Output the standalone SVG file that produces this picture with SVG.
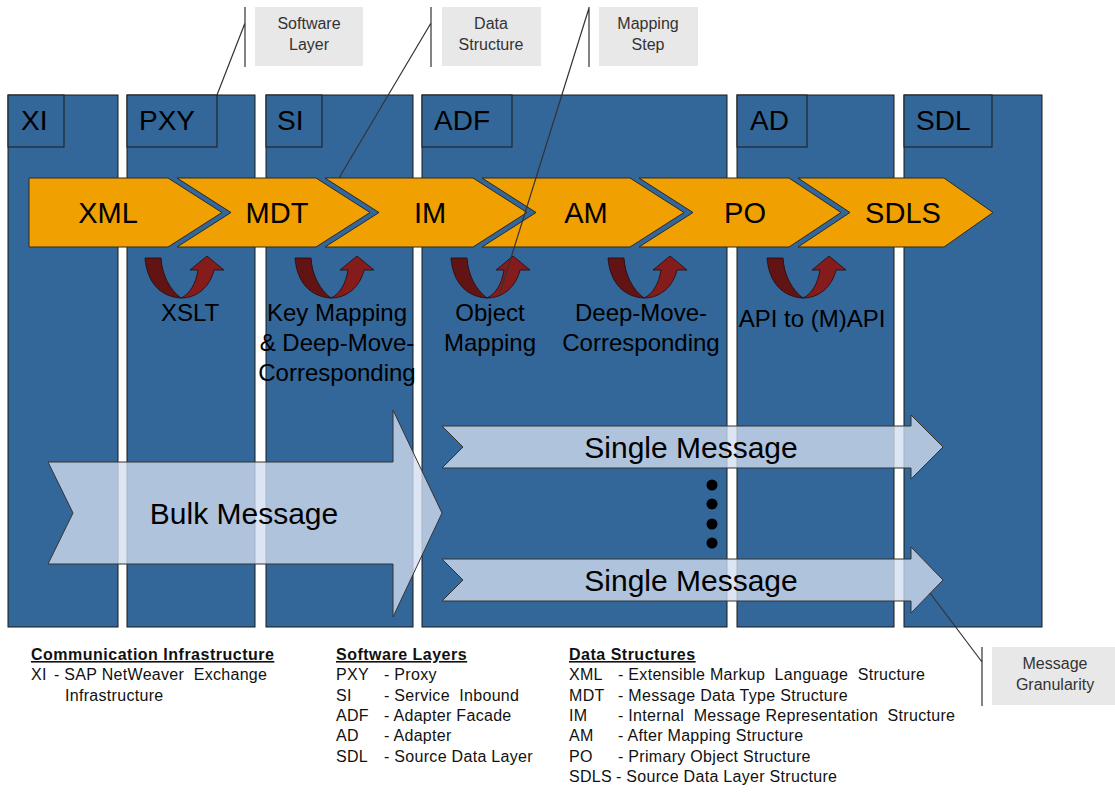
<svg xmlns="http://www.w3.org/2000/svg" xmlns:xlink="http://www.w3.org/1999/xlink" width="1115" height="792" viewBox="0 0 1115 792">
<style>
text{font-family:"Liberation Sans",Arial,sans-serif;}
.col{fill:#336699;stroke:#1a1a1a;stroke-width:1;}
.lbl{fill:#336699;stroke:#1a1a1a;stroke-width:1;}
.lt{font-size:28px;fill:#000;}
.chev{fill:#F0A000;stroke:#2a2a2a;stroke-width:1;}
.ct{font-size:29px;fill:#000;text-anchor:middle;}
.st{font-size:24px;fill:#000;text-anchor:middle;}
.msg{fill:rgb(210,222,239);fill-opacity:0.78;stroke:#333;stroke-width:1;}
.mt{font-size:30px;fill:#000;text-anchor:middle;}
.cb{fill:#E8E8E8;}
.cbt{font-size:16px;fill:#333;text-anchor:middle;}
.cl{stroke:#333;stroke-width:1.2;fill:none;}
.lh{font-size:16px;font-weight:bold;text-decoration:underline;letter-spacing:0.5px;fill:#111;}
.lb{font-size:16px;letter-spacing:0.3px;fill:#111;white-space:pre;}
.dk{fill:#621414;stroke:#2a0808;stroke-width:0.8;}
.lr{fill:#851c1c;stroke:#2a0808;stroke-width:0.8;}
</style>
<defs>
<g id="uturn">
<path class="lr" d="M36,40 C45,36 51,25 53,12 L45,12 L62,-2 L79,12 L69,12 C65,29 52,40 36,40 Z"/>
<path class="dk" d="M0,0 L16,0 C17,17 25,32 36,40 C16,39 2,25 0,0 Z"/>
</g>
</defs>

<g id="col-XI"><rect class="col" x="8" y="95" width="110" height="532"/><rect class="lbl" x="8" y="95" width="56" height="52"/><text class="lt" x="21" y="130">XI</text></g>
<g id="col-PXY"><rect class="col" x="127" y="95" width="128" height="532"/><rect class="lbl" x="127" y="95" width="90" height="52"/><text class="lt" x="139" y="130">PXY</text></g>
<g id="col-SI"><rect class="col" x="266" y="95" width="147" height="532"/><rect class="lbl" x="266" y="95" width="56" height="52"/><text class="lt" x="277" y="130">SI</text></g>
<g id="col-ADF"><rect class="col" x="422" y="95" width="305" height="532"/><rect class="lbl" x="422" y="95" width="90" height="52"/><text class="lt" x="434" y="130">ADF</text></g>
<g id="col-AD"><rect class="col" x="737" y="95" width="157" height="532"/><rect class="lbl" x="737" y="95" width="70" height="52"/><text class="lt" x="750" y="130">AD</text></g>
<g id="col-SDL"><rect class="col" x="904" y="95" width="138" height="532"/><rect class="lbl" x="904" y="95" width="88" height="52"/><text class="lt" x="916" y="130">SDL</text></g>

<g id="chev-XML"><path class="chev" d="M29,178 H168 L222,212.5 L168,247 H29 Z"/><text class="ct" x="108" y="223">XML</text></g>
<g id="chev-MDT"><path class="chev" d="M177,178 H316 L370,212.5 L316,247 H177 L231,212.5 Z"/><text class="ct" x="277" y="223">MDT</text></g>
<g id="chev-IM"><path class="chev" d="M325,178 H473 L527,212.5 L473,247 H325 L379,212.5 Z"/><text class="ct" x="430" y="223">IM</text></g>
<g id="chev-AM"><path class="chev" d="M482,178 H630 L684,212.5 L630,247 H482 L536,212.5 Z"/><text class="ct" x="586" y="223">AM</text></g>
<g id="chev-PO"><path class="chev" d="M639,178 H789 L841,212.5 L789,247 H639 L693,212.5 Z"/><text class="ct" x="745" y="223">PO</text></g>
<g id="chev-SDLS"><path class="chev" d="M798,178 H944 L993,212.5 L944,247 H798 L850,212.5 Z"/><text class="ct" x="903" y="223">SDLS</text></g>

<g id="step-XSLT"><use xlink:href="#uturn" x="145" y="258"/><text class="st" x="190" y="321">XSLT</text></g>
<g id="step-KeyMapping"><use xlink:href="#uturn" x="295" y="258"/><text class="st" x="337" y="321">Key Mapping</text><text class="st" x="337" y="351">&amp; Deep-Move-</text><text class="st" x="337" y="381">Corresponding</text></g>
<g id="step-ObjectMapping"><use xlink:href="#uturn" x="451" y="258"/><text class="st" x="490" y="321">Object</text><text class="st" x="490" y="351">Mapping</text></g>
<g id="step-DeepMove"><use xlink:href="#uturn" x="608" y="258"/><text class="st" x="641" y="321">Deep-Move-</text><text class="st" x="641" y="351">Corresponding</text></g>
<g id="step-API"><use xlink:href="#uturn" x="767" y="258"/><text class="st" x="812" y="327">API to (M)API</text></g>

<g id="msg-bulk"><path class="msg" d="M48,462 L393,462 L393,410 L442,513 L393,617 L393,564 L48,564 L73,513 Z"/><text class="mt" x="244" y="524">Bulk Message</text></g>
<g id="msg-single-1"><path class="msg" d="M442,426 L911,426 L911,415 L943,447 L911,479 L911,468 L442,468 L463,447 Z"/><text class="mt" x="691" y="458">Single Message</text></g>
<g id="msg-dots"><circle cx="712" cy="485" r="5.5" fill="#000"/><circle cx="712" cy="504" r="5.5" fill="#000"/><circle cx="712" cy="524" r="5.5" fill="#000"/><circle cx="712" cy="543" r="5.5" fill="#000"/></g>
<g id="msg-single-2"><path class="msg" d="M442,559 L911,559 L911,547 L943,580 L911,613 L911,601 L442,601 L463,580 Z"/><text class="mt" x="691" y="591">Single Message</text></g>

<g id="callout-software"><rect class="cb" x="255" y="7" width="108" height="59"/><text class="cbt" x="309" y="29">Software</text><text class="cbt" x="309" y="50">Layer</text></g>
<g id="callout-data"><rect class="cb" x="442" y="7" width="99" height="59"/><text class="cbt" x="491" y="29">Data</text><text class="cbt" x="491" y="50">Structure</text></g>
<g id="callout-mapping"><rect class="cb" x="599" y="7" width="99" height="59"/><text class="cbt" x="648" y="29">Mapping</text><text class="cbt" x="648" y="50">Step</text></g>
<g id="callout-granularity"><rect class="cb" x="992" y="647" width="123" height="58"/><text class="cbt" x="1055" y="669">Message</text><text class="cbt" x="1055" y="690">Granularity</text></g>

<g id="connectors">
<path class="cl" d="M245,7 V67 M245,23 L217,95"/>
<path class="cl" d="M431,7 V67 M431,23 L339,178"/>
<path class="cl" d="M589,7 V67 M589,8 L500,293"/>
<path class="cl" d="M982,647 V706 M982,662 L930,593"/>
</g>

<g id="legend-comm">
<text class="lh" x="31" y="660">Communication Infrastructure</text>
<text class="lb" x="31" y="680">XI</text><text class="lb" x="54" y="680">- SAP NetWeaver  Exchange</text>
<text class="lb" x="65" y="701">Infrastructure</text>
</g>
<g id="legend-layers">
<text class="lh" x="336" y="660">Software Layers</text>
<text class="lb" x="336" y="680">PXY</text><text class="lb" x="384" y="680">- Proxy</text>
<text class="lb" x="336" y="701">SI</text><text class="lb" x="384" y="701">- Service  Inbound</text>
<text class="lb" x="336" y="721">ADF</text><text class="lb" x="384" y="721">- Adapter Facade</text>
<text class="lb" x="336" y="741">AD</text><text class="lb" x="384" y="741">- Adapter</text>
<text class="lb" x="336" y="762">SDL</text><text class="lb" x="384" y="762">- Source Data Layer</text>
</g>
<g id="legend-data">
<text class="lh" x="569" y="660">Data Structures</text>
<text class="lb" x="569" y="680">XML</text><text class="lb" x="618" y="680">- Extensible Markup  Language  Structure</text>
<text class="lb" x="569" y="701">MDT</text><text class="lb" x="618" y="701">- Message Data Type Structure</text>
<text class="lb" x="569" y="721">IM</text><text class="lb" x="618" y="721">- Internal  Message Representation  Structure</text>
<text class="lb" x="569" y="741">AM</text><text class="lb" x="618" y="741">- After Mapping Structure</text>
<text class="lb" x="569" y="762">PO</text><text class="lb" x="618" y="762">- Primary Object Structure</text>
<text class="lb" x="569" y="782">SDLS</text><text class="lb" x="616" y="782">- Source Data Layer Structure</text>
</g>
</svg>
